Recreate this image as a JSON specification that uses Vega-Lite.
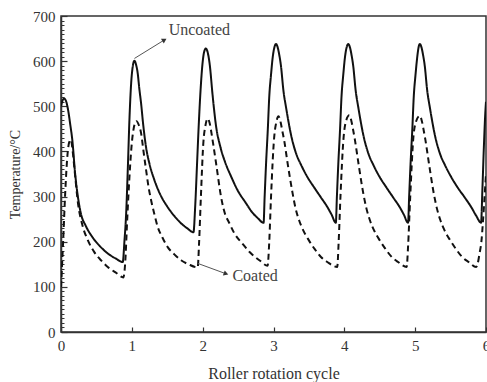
{
  "$schema": "https://vega.github.io/schema/vega-lite/v6.json",
  "width": 425,
  "height": 316,
  "autosize": {"type": "none"},
  "padding": {"left": 61, "top": 16, "right": 1, "bottom": 50},
  "background": "white",
  "config": {
    "view": {"stroke": "#333", "strokeWidth": 1.5},
    "font": "Liberation Serif"
  },
  "resolve": {"scale": {"y": "shared", "x": "shared"}, "axis": {"y": "independent"}},
  "datasets": {
    "curves": [
      {"series": "Uncoated", "cycle": 0.0, "temp": 500},
      {"series": "Uncoated", "cycle": 0.02, "temp": 512},
      {"series": "Uncoated", "cycle": 0.045, "temp": 517},
      {"series": "Uncoated", "cycle": 0.07, "temp": 512},
      {"series": "Uncoated", "cycle": 0.1, "temp": 492},
      {"series": "Uncoated", "cycle": 0.13, "temp": 460},
      {"series": "Uncoated", "cycle": 0.16, "temp": 425},
      {"series": "Uncoated", "cycle": 0.2, "temp": 350},
      {"series": "Uncoated", "cycle": 0.24, "temp": 298},
      {"series": "Uncoated", "cycle": 0.28, "temp": 263},
      {"series": "Uncoated", "cycle": 0.35, "temp": 235},
      {"series": "Uncoated", "cycle": 0.44, "temp": 211},
      {"series": "Uncoated", "cycle": 0.55, "temp": 190},
      {"series": "Uncoated", "cycle": 0.66, "temp": 174},
      {"series": "Uncoated", "cycle": 0.77, "temp": 163},
      {"series": "Uncoated", "cycle": 0.872, "temp": 155},
      {"series": "Uncoated", "cycle": 0.895, "temp": 200},
      {"series": "Uncoated", "cycle": 0.92, "temp": 263},
      {"series": "Uncoated", "cycle": 0.945, "temp": 370},
      {"series": "Uncoated", "cycle": 0.966, "temp": 470},
      {"series": "Uncoated", "cycle": 0.99, "temp": 550},
      {"series": "Uncoated", "cycle": 1.01, "temp": 585},
      {"series": "Uncoated", "cycle": 1.037, "temp": 601},
      {"series": "Uncoated", "cycle": 1.06, "temp": 592},
      {"series": "Uncoated", "cycle": 1.083, "temp": 573},
      {"series": "Uncoated", "cycle": 1.105, "temp": 540},
      {"series": "Uncoated", "cycle": 1.131, "temp": 506},
      {"series": "Uncoated", "cycle": 1.16, "temp": 460},
      {"series": "Uncoated", "cycle": 1.2, "temp": 410},
      {"series": "Uncoated", "cycle": 1.25, "temp": 372},
      {"series": "Uncoated", "cycle": 1.32, "temp": 336},
      {"series": "Uncoated", "cycle": 1.4, "temp": 305},
      {"series": "Uncoated", "cycle": 1.5, "temp": 278},
      {"series": "Uncoated", "cycle": 1.6, "temp": 257},
      {"series": "Uncoated", "cycle": 1.7, "temp": 240},
      {"series": "Uncoated", "cycle": 1.78, "temp": 230},
      {"series": "Uncoated", "cycle": 1.87, "temp": 221},
      {"series": "Uncoated", "cycle": 1.895, "temp": 280},
      {"series": "Uncoated", "cycle": 1.92, "temp": 370},
      {"series": "Uncoated", "cycle": 1.945, "temp": 460},
      {"series": "Uncoated", "cycle": 1.97, "temp": 535},
      {"series": "Uncoated", "cycle": 1.995, "temp": 590},
      {"series": "Uncoated", "cycle": 2.02, "temp": 620},
      {"series": "Uncoated", "cycle": 2.045, "temp": 628},
      {"series": "Uncoated", "cycle": 2.07, "temp": 620},
      {"series": "Uncoated", "cycle": 2.1, "temp": 592},
      {"series": "Uncoated", "cycle": 2.14, "temp": 525},
      {"series": "Uncoated", "cycle": 2.19, "temp": 455},
      {"series": "Uncoated", "cycle": 2.25, "temp": 410},
      {"series": "Uncoated", "cycle": 2.32, "temp": 375},
      {"series": "Uncoated", "cycle": 2.4, "temp": 345},
      {"series": "Uncoated", "cycle": 2.5, "temp": 312},
      {"series": "Uncoated", "cycle": 2.6, "temp": 288},
      {"series": "Uncoated", "cycle": 2.7, "temp": 265},
      {"series": "Uncoated", "cycle": 2.78, "temp": 252},
      {"series": "Uncoated", "cycle": 2.86, "temp": 242},
      {"series": "Uncoated", "cycle": 2.875, "temp": 300},
      {"series": "Uncoated", "cycle": 2.895, "temp": 373},
      {"series": "Uncoated", "cycle": 2.92, "temp": 450},
      {"series": "Uncoated", "cycle": 2.94, "temp": 521},
      {"series": "Uncoated", "cycle": 2.965, "temp": 570},
      {"series": "Uncoated", "cycle": 2.99, "temp": 610},
      {"series": "Uncoated", "cycle": 3.015, "temp": 632},
      {"series": "Uncoated", "cycle": 3.035, "temp": 638},
      {"series": "Uncoated", "cycle": 3.06, "temp": 630},
      {"series": "Uncoated", "cycle": 3.08, "temp": 615},
      {"series": "Uncoated", "cycle": 3.105, "temp": 590},
      {"series": "Uncoated", "cycle": 3.14, "temp": 535},
      {"series": "Uncoated", "cycle": 3.18, "temp": 495},
      {"series": "Uncoated", "cycle": 3.25, "temp": 435},
      {"series": "Uncoated", "cycle": 3.32, "temp": 395},
      {"series": "Uncoated", "cycle": 3.39, "temp": 370},
      {"series": "Uncoated", "cycle": 3.48, "temp": 343},
      {"series": "Uncoated", "cycle": 3.575, "temp": 320},
      {"series": "Uncoated", "cycle": 3.67, "temp": 298},
      {"series": "Uncoated", "cycle": 3.76, "temp": 277},
      {"series": "Uncoated", "cycle": 3.82, "temp": 260},
      {"series": "Uncoated", "cycle": 3.88, "temp": 242},
      {"series": "Uncoated", "cycle": 3.895, "temp": 300},
      {"series": "Uncoated", "cycle": 3.915, "temp": 373},
      {"series": "Uncoated", "cycle": 3.94, "temp": 450},
      {"series": "Uncoated", "cycle": 3.96, "temp": 521},
      {"series": "Uncoated", "cycle": 3.985, "temp": 570},
      {"series": "Uncoated", "cycle": 4.01, "temp": 610},
      {"series": "Uncoated", "cycle": 4.035, "temp": 632},
      {"series": "Uncoated", "cycle": 4.055, "temp": 638},
      {"series": "Uncoated", "cycle": 4.08, "temp": 630},
      {"series": "Uncoated", "cycle": 4.1, "temp": 615},
      {"series": "Uncoated", "cycle": 4.125, "temp": 590},
      {"series": "Uncoated", "cycle": 4.16, "temp": 535},
      {"series": "Uncoated", "cycle": 4.2, "temp": 495},
      {"series": "Uncoated", "cycle": 4.27, "temp": 435},
      {"series": "Uncoated", "cycle": 4.34, "temp": 395},
      {"series": "Uncoated", "cycle": 4.41, "temp": 370},
      {"series": "Uncoated", "cycle": 4.5, "temp": 343},
      {"series": "Uncoated", "cycle": 4.595, "temp": 320},
      {"series": "Uncoated", "cycle": 4.69, "temp": 298},
      {"series": "Uncoated", "cycle": 4.78, "temp": 277},
      {"series": "Uncoated", "cycle": 4.84, "temp": 260},
      {"series": "Uncoated", "cycle": 4.9, "temp": 242},
      {"series": "Uncoated", "cycle": 4.915, "temp": 300},
      {"series": "Uncoated", "cycle": 4.935, "temp": 373},
      {"series": "Uncoated", "cycle": 4.96, "temp": 450},
      {"series": "Uncoated", "cycle": 4.98, "temp": 521},
      {"series": "Uncoated", "cycle": 5.005, "temp": 570},
      {"series": "Uncoated", "cycle": 5.03, "temp": 610},
      {"series": "Uncoated", "cycle": 5.05, "temp": 632},
      {"series": "Uncoated", "cycle": 5.065, "temp": 638},
      {"series": "Uncoated", "cycle": 5.09, "temp": 630},
      {"series": "Uncoated", "cycle": 5.11, "temp": 615},
      {"series": "Uncoated", "cycle": 5.135, "temp": 590},
      {"series": "Uncoated", "cycle": 5.17, "temp": 535},
      {"series": "Uncoated", "cycle": 5.21, "temp": 495},
      {"series": "Uncoated", "cycle": 5.28, "temp": 435},
      {"series": "Uncoated", "cycle": 5.35, "temp": 395},
      {"series": "Uncoated", "cycle": 5.42, "temp": 370},
      {"series": "Uncoated", "cycle": 5.51, "temp": 343},
      {"series": "Uncoated", "cycle": 5.6, "temp": 320},
      {"series": "Uncoated", "cycle": 5.7, "temp": 298},
      {"series": "Uncoated", "cycle": 5.79, "temp": 277},
      {"series": "Uncoated", "cycle": 5.86, "temp": 258},
      {"series": "Uncoated", "cycle": 5.93, "temp": 242},
      {"series": "Uncoated", "cycle": 5.95, "temp": 320},
      {"series": "Uncoated", "cycle": 5.97, "temp": 410},
      {"series": "Uncoated", "cycle": 5.99, "temp": 485},
      {"series": "Uncoated", "cycle": 6.0, "temp": 510},
      {"series": "Coated", "cycle": 0.0, "temp": 100},
      {"series": "Coated", "cycle": 0.03, "temp": 200},
      {"series": "Coated", "cycle": 0.06, "temp": 310},
      {"series": "Coated", "cycle": 0.09, "temp": 390},
      {"series": "Coated", "cycle": 0.115, "temp": 420},
      {"series": "Coated", "cycle": 0.14, "temp": 426},
      {"series": "Coated", "cycle": 0.165, "temp": 400},
      {"series": "Coated", "cycle": 0.2, "temp": 345},
      {"series": "Coated", "cycle": 0.24, "temp": 285},
      {"series": "Coated", "cycle": 0.3, "temp": 238},
      {"series": "Coated", "cycle": 0.38, "temp": 203},
      {"series": "Coated", "cycle": 0.47, "temp": 177},
      {"series": "Coated", "cycle": 0.57, "temp": 158},
      {"series": "Coated", "cycle": 0.66, "temp": 144},
      {"series": "Coated", "cycle": 0.77, "temp": 132},
      {"series": "Coated", "cycle": 0.88, "temp": 121},
      {"series": "Coated", "cycle": 0.905, "temp": 150},
      {"series": "Coated", "cycle": 0.935, "temp": 250},
      {"series": "Coated", "cycle": 0.965, "temp": 340},
      {"series": "Coated", "cycle": 0.995, "temp": 410},
      {"series": "Coated", "cycle": 1.025, "temp": 450},
      {"series": "Coated", "cycle": 1.065, "temp": 467},
      {"series": "Coated", "cycle": 1.1, "temp": 458},
      {"series": "Coated", "cycle": 1.131, "temp": 440},
      {"series": "Coated", "cycle": 1.165, "temp": 400},
      {"series": "Coated", "cycle": 1.202, "temp": 358},
      {"series": "Coated", "cycle": 1.235, "temp": 322},
      {"series": "Coated", "cycle": 1.272, "temp": 292},
      {"series": "Coated", "cycle": 1.32, "temp": 260},
      {"series": "Coated", "cycle": 1.365, "temp": 233},
      {"series": "Coated", "cycle": 1.43, "temp": 210},
      {"series": "Coated", "cycle": 1.506, "temp": 188},
      {"series": "Coated", "cycle": 1.6, "temp": 172},
      {"series": "Coated", "cycle": 1.695, "temp": 159},
      {"series": "Coated", "cycle": 1.8, "temp": 150},
      {"series": "Coated", "cycle": 1.93, "temp": 143},
      {"series": "Coated", "cycle": 1.95, "temp": 200},
      {"series": "Coated", "cycle": 1.975, "temp": 300},
      {"series": "Coated", "cycle": 2.01, "temp": 420},
      {"series": "Coated", "cycle": 2.04, "temp": 458},
      {"series": "Coated", "cycle": 2.07, "temp": 473},
      {"series": "Coated", "cycle": 2.1, "temp": 462},
      {"series": "Coated", "cycle": 2.125, "temp": 440},
      {"series": "Coated", "cycle": 2.15, "temp": 415},
      {"series": "Coated", "cycle": 2.19, "temp": 373},
      {"series": "Coated", "cycle": 2.26, "temp": 299},
      {"series": "Coated", "cycle": 2.3, "temp": 270},
      {"series": "Coated", "cycle": 2.38, "temp": 240},
      {"series": "Coated", "cycle": 2.45, "temp": 218},
      {"series": "Coated", "cycle": 2.56, "temp": 196},
      {"series": "Coated", "cycle": 2.67, "temp": 176},
      {"series": "Coated", "cycle": 2.8, "temp": 159},
      {"series": "Coated", "cycle": 2.917, "temp": 147},
      {"series": "Coated", "cycle": 2.94, "temp": 200},
      {"series": "Coated", "cycle": 2.965, "temp": 299},
      {"series": "Coated", "cycle": 3.01, "temp": 432},
      {"series": "Coated", "cycle": 3.04, "temp": 465},
      {"series": "Coated", "cycle": 3.07, "temp": 478},
      {"series": "Coated", "cycle": 3.1, "temp": 465},
      {"series": "Coated", "cycle": 3.125, "temp": 445},
      {"series": "Coated", "cycle": 3.15, "temp": 425},
      {"series": "Coated", "cycle": 3.2, "temp": 373},
      {"series": "Coated", "cycle": 3.27, "temp": 307},
      {"series": "Coated", "cycle": 3.31, "temp": 275},
      {"series": "Coated", "cycle": 3.36, "temp": 248},
      {"series": "Coated", "cycle": 3.42, "temp": 225},
      {"series": "Coated", "cycle": 3.5, "temp": 203},
      {"series": "Coated", "cycle": 3.58, "temp": 184},
      {"series": "Coated", "cycle": 3.67, "temp": 166},
      {"series": "Coated", "cycle": 3.76, "temp": 155},
      {"series": "Coated", "cycle": 3.9, "temp": 144},
      {"series": "Coated", "cycle": 3.92, "temp": 200},
      {"series": "Coated", "cycle": 3.945, "temp": 299},
      {"series": "Coated", "cycle": 3.99, "temp": 432},
      {"series": "Coated", "cycle": 4.02, "temp": 465},
      {"series": "Coated", "cycle": 4.07, "temp": 480},
      {"series": "Coated", "cycle": 4.1, "temp": 467},
      {"series": "Coated", "cycle": 4.125, "temp": 447},
      {"series": "Coated", "cycle": 4.15, "temp": 425},
      {"series": "Coated", "cycle": 4.2, "temp": 373},
      {"series": "Coated", "cycle": 4.27, "temp": 305},
      {"series": "Coated", "cycle": 4.31, "temp": 275},
      {"series": "Coated", "cycle": 4.36, "temp": 248},
      {"series": "Coated", "cycle": 4.42, "temp": 225},
      {"series": "Coated", "cycle": 4.5, "temp": 203},
      {"series": "Coated", "cycle": 4.58, "temp": 184},
      {"series": "Coated", "cycle": 4.67, "temp": 166},
      {"series": "Coated", "cycle": 4.76, "temp": 155},
      {"series": "Coated", "cycle": 4.88, "temp": 144},
      {"series": "Coated", "cycle": 4.9, "temp": 190},
      {"series": "Coated", "cycle": 4.93, "temp": 299},
      {"series": "Coated", "cycle": 4.975, "temp": 432},
      {"series": "Coated", "cycle": 5.01, "temp": 465},
      {"series": "Coated", "cycle": 5.065, "temp": 479},
      {"series": "Coated", "cycle": 5.095, "temp": 467},
      {"series": "Coated", "cycle": 5.12, "temp": 447},
      {"series": "Coated", "cycle": 5.145, "temp": 425},
      {"series": "Coated", "cycle": 5.195, "temp": 373},
      {"series": "Coated", "cycle": 5.265, "temp": 305},
      {"series": "Coated", "cycle": 5.305, "temp": 275},
      {"series": "Coated", "cycle": 5.355, "temp": 248},
      {"series": "Coated", "cycle": 5.415, "temp": 225},
      {"series": "Coated", "cycle": 5.495, "temp": 203},
      {"series": "Coated", "cycle": 5.575, "temp": 184},
      {"series": "Coated", "cycle": 5.665, "temp": 166},
      {"series": "Coated", "cycle": 5.755, "temp": 155},
      {"series": "Coated", "cycle": 5.86, "temp": 144},
      {"series": "Coated", "cycle": 5.88, "temp": 150},
      {"series": "Coated", "cycle": 5.91, "temp": 175},
      {"series": "Coated", "cycle": 5.935, "temp": 200},
      {"series": "Coated", "cycle": 5.955, "temp": 240},
      {"series": "Coated", "cycle": 5.98, "temp": 300},
      {"series": "Coated", "cycle": 6.0, "temp": 350}
    ],
    "notes": [
      {"label": "Uncoated", "x0": 1.037, "y0": 606, "x1": 1.46, "y1": 647, "tx": 1.953, "ty": 669},
      {"label": "Coated", "x0": 1.93, "y0": 152, "x1": 2.33, "y1": 129, "tx": 2.74, "ty": 123}
    ]
  },
  "layer": [
    {
      "data": {"name": "curves"},
      "mark": {"type": "line", "interpolate": "monotone", "strokeWidth": 2, "color": "#111", "clip": true},
      "encoding": {
        "x": {
          "field": "cycle", "type": "quantitative",
          "scale": {"domain": [0, 6], "nice": false, "zero": false},
          "axis": {
            "title": "Roller rotation cycle",
            "values": [0, 0.5, 1, 1.5, 2, 2.5, 3, 3.5, 4, 4.5, 5, 5.5, 6],
            "labelExpr": "datum.value % 1 === 0 ? '' + datum.value : ''",
            "tickSize": {"expr": "datum.value % 1 === 0 ? -5 : -3"},
            "tickColor": "#333", "tickWidth": 1.2,
            "domainColor": "#333", "domainWidth": 1.5,
            "grid": false, "labelFlush": false, "labelOverlap": false,
            "labelFont": "Liberation Serif", "labelFontSize": 15, "labelColor": "#333",
            "labelPadding": 11,
            "titleFont": "Liberation Serif", "titleFontSize": 16, "titleFontWeight": "normal", "titleColor": "#333",
            "titlePadding": 12
          }
        },
        "y": {
          "field": "temp", "type": "quantitative",
          "scale": {"domain": [0, 700], "nice": false},
          "axis": {
            "orient": "left",
            "title": "Temperature/°C",
            "values": [0, 100, 200, 300, 400, 500, 600, 700],
            "tickSize": -6,
            "tickColor": "#333", "tickWidth": 1.2,
            "domainColor": "#333", "domainWidth": 1.5,
            "grid": false, "labelFlush": false, "labelOverlap": false,
            "labelFont": "Liberation Serif", "labelFontSize": 15, "labelColor": "#333",
            "labelPadding": 12,
            "titleFont": "Liberation Serif", "titleFontSize": 14, "titleFontWeight": "normal", "titleColor": "#333",
            "titlePadding": 10
          }
        },
        "strokeDash": {
          "field": "series", "type": "nominal",
          "scale": {"domain": ["Uncoated", "Coated"], "range": [[1, 0], [6, 4]]},
          "legend": null
        },
        "detail": {"field": "series"}
      }
    },
    {
      "data": {"name": "notes"},
      "mark": {"type": "rule", "color": "#555", "strokeWidth": 1},
      "encoding": {
        "x": {"field": "x0", "type": "quantitative"},
        "y": {
          "field": "y0", "type": "quantitative",
          "axis": {
            "orient": "left",
            "title": null,
            "values": [10,20,30,40,50,60,70,80,90,110,120,130,140,150,160,170,180,190,210,220,230,240,250,260,270,280,290,310,320,330,340,350,360,370,380,390,410,420,430,440,450,460,470,480,490,510,520,530,540,550,560,570,580,590,610,620,630,640,650,660,670,680,690],
            "labels": false,
            "domain": false,
            "grid": false,
            "tickSize": -3,
            "tickColor": "#333", "tickWidth": 1
          }
        },
        "x2": {"field": "x1"},
        "y2": {"field": "y1"}
      }
    },
    {
      "data": {"name": "notes"},
      "transform": [{"filter": "datum.label === 'Uncoated'"}],
      "mark": {"type": "point", "shape": "triangle-right", "filled": true, "color": "#333", "size": 30, "angle": 329, "opacity": 1},
      "encoding": {
        "x": {"field": "x1", "type": "quantitative"},
        "y": {"field": "y1", "type": "quantitative", "axis": null}
      }
    },
    {
      "data": {"name": "notes"},
      "transform": [{"filter": "datum.label === 'Coated'"}],
      "mark": {"type": "point", "shape": "triangle-right", "filled": true, "color": "#333", "size": 30, "angle": 20, "opacity": 1},
      "encoding": {
        "x": {"field": "x1", "type": "quantitative"},
        "y": {"field": "y1", "type": "quantitative", "axis": null}
      }
    },
    {
      "data": {"name": "notes"},
      "mark": {"type": "text", "font": "Liberation Serif", "fontSize": 16, "color": "#444", "align": "center", "baseline": "middle"},
      "encoding": {
        "x": {"field": "tx", "type": "quantitative"},
        "y": {"field": "ty", "type": "quantitative", "axis": null},
        "text": {"field": "label"}
      }
    }
  ]
}
